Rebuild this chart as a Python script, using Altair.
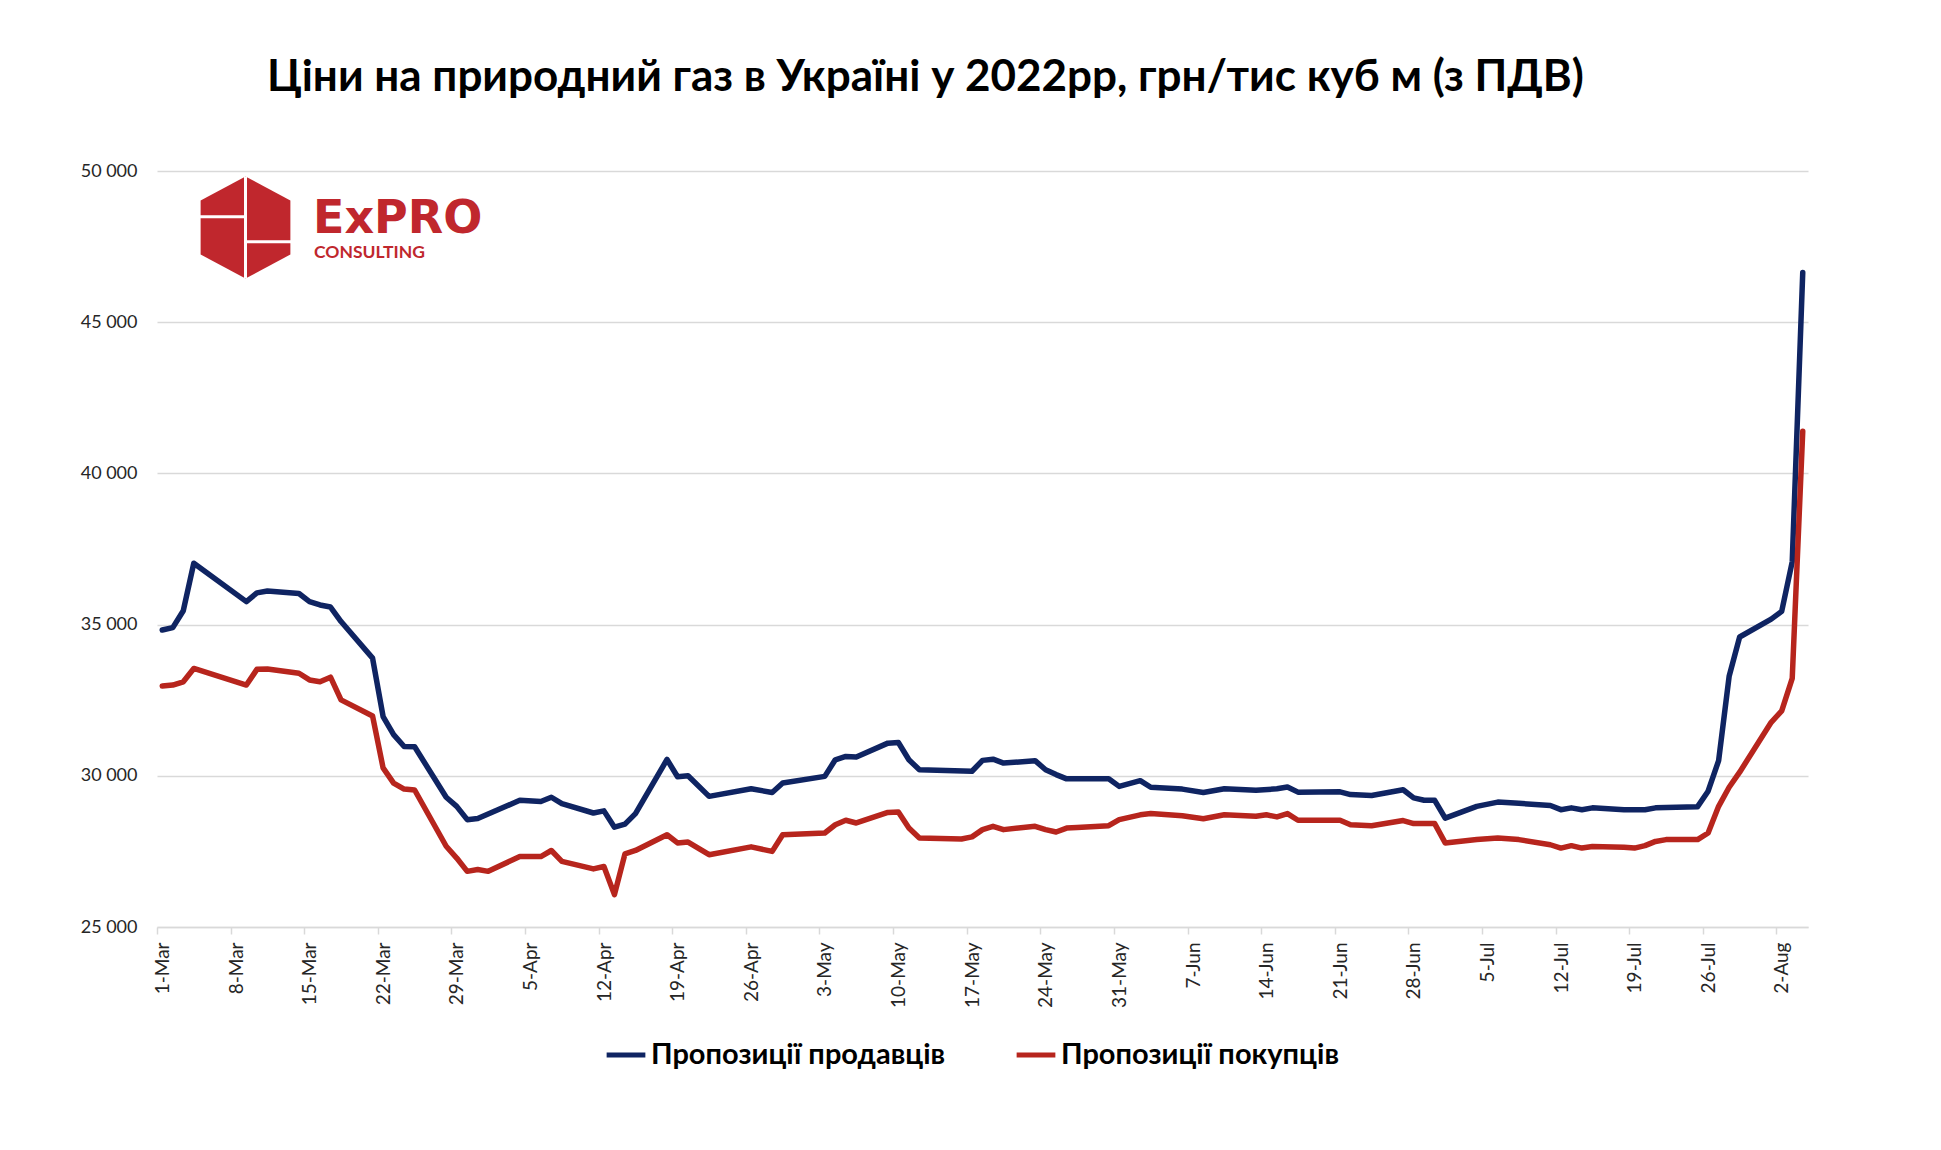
import pandas as pd
import altair as alt

# Seller offers (blue line), grn per thousand cubic metres incl. VAT
seller_dates = [
    "2022-03-01", "2022-03-02", "2022-03-03", "2022-03-04", "2022-03-09", "2022-03-10",
    "2022-03-11", "2022-03-14", "2022-03-15", "2022-03-16", "2022-03-17", "2022-03-18",
    "2022-03-21", "2022-03-22", "2022-03-23", "2022-03-24", "2022-03-25", "2022-03-28",
    "2022-03-29", "2022-03-30", "2022-03-31", "2022-04-04", "2022-04-06", "2022-04-07",
    "2022-04-08", "2022-04-11", "2022-04-12", "2022-04-13", "2022-04-14", "2022-04-15",
    "2022-04-18", "2022-04-19", "2022-04-20", "2022-04-22", "2022-04-26", "2022-04-28",
    "2022-04-29", "2022-05-03", "2022-05-04", "2022-05-05", "2022-05-06", "2022-05-09",
    "2022-05-10", "2022-05-11", "2022-05-12", "2022-05-17", "2022-05-18", "2022-05-19",
    "2022-05-20", "2022-05-23", "2022-05-24", "2022-05-25", "2022-05-26", "2022-05-30",
    "2022-05-31", "2022-06-02", "2022-06-03", "2022-06-06", "2022-06-08", "2022-06-10",
    "2022-06-13", "2022-06-15", "2022-06-16", "2022-06-17", "2022-06-21", "2022-06-22",
    "2022-06-24", "2022-06-27", "2022-06-28", "2022-06-29", "2022-06-30", "2022-07-01",
    "2022-07-04", "2022-07-06", "2022-07-08", "2022-07-11", "2022-07-12", "2022-07-13",
    "2022-07-14", "2022-07-15", "2022-07-18", "2022-07-20", "2022-07-21", "2022-07-25",
    "2022-07-26", "2022-07-27", "2022-07-28", "2022-07-29", "2022-08-01", "2022-08-02",
    "2022-08-03", "2022-08-04",
]
seller_prices = [
    34820, 34900, 35460, 37030, 35760, 36050,
    36110, 36030, 35760, 35650, 35580, 35100,
    33890, 31960, 31360, 30970, 30960, 29290,
    28990, 28550, 28590, 29190, 29150, 29290,
    29080, 28770, 28840, 28300, 28400, 28750,
    30540, 29970, 30000, 29320, 29570, 29450,
    29760, 29980, 30530, 30640, 30620, 31080,
    31100, 30530, 30200, 30150, 30510, 30550,
    30420, 30500, 30200, 30040, 29900, 29900,
    29650, 29840, 29620, 29560, 29450, 29570,
    29520, 29570, 29630, 29460, 29470, 29380,
    29350, 29540, 29270, 29190, 29190, 28600,
    28990, 29130, 29090, 29020, 28880, 28940,
    28880, 28940, 28880, 28880, 28940, 28980,
    29490, 30500, 33290, 34590, 35180, 35440,
    37080, 46640,
]

# Buyer offers (red line)
buyer_dates = [
    "2022-03-01", "2022-03-02", "2022-03-03", "2022-03-04", "2022-03-09", "2022-03-10",
    "2022-03-11", "2022-03-14", "2022-03-15", "2022-03-16", "2022-03-17", "2022-03-18",
    "2022-03-21", "2022-03-22", "2022-03-23", "2022-03-24", "2022-03-25", "2022-03-28",
    "2022-03-29", "2022-03-30", "2022-03-31", "2022-04-01", "2022-04-04", "2022-04-06",
    "2022-04-07", "2022-04-08", "2022-04-11", "2022-04-12", "2022-04-13", "2022-04-14",
    "2022-04-15", "2022-04-18", "2022-04-19", "2022-04-20", "2022-04-22", "2022-04-26",
    "2022-04-28", "2022-04-29", "2022-05-03", "2022-05-04", "2022-05-05", "2022-05-06",
    "2022-05-09", "2022-05-10", "2022-05-11", "2022-05-12", "2022-05-16", "2022-05-17",
    "2022-05-18", "2022-05-19", "2022-05-20", "2022-05-23", "2022-05-24", "2022-05-25",
    "2022-05-26", "2022-05-27", "2022-05-30", "2022-05-31", "2022-06-02", "2022-06-03",
    "2022-06-06", "2022-06-08", "2022-06-10", "2022-06-13", "2022-06-14", "2022-06-15",
    "2022-06-16", "2022-06-17", "2022-06-21", "2022-06-22", "2022-06-24", "2022-06-27",
    "2022-06-28", "2022-06-30", "2022-07-01", "2022-07-04", "2022-07-06", "2022-07-08",
    "2022-07-11", "2022-07-12", "2022-07-13", "2022-07-14", "2022-07-15", "2022-07-18",
    "2022-07-19", "2022-07-20", "2022-07-21", "2022-07-22", "2022-07-25", "2022-07-26",
    "2022-07-27", "2022-07-28", "2022-07-29", "2022-08-01", "2022-08-02", "2022-08-03",
    "2022-08-04",
]
buyer_prices = [
    32970, 33000, 33110, 33550, 33000, 33520,
    33530, 33390, 33170, 33110, 33260, 32510,
    31980, 30260, 29760, 29560, 29530, 27670,
    27280, 26840, 26900, 26840, 27330, 27330,
    27530, 27170, 26920, 27000, 26070, 27420,
    27530, 28050, 27780, 27810, 27390, 27650,
    27500, 28050, 28110, 28380, 28530, 28440,
    28790, 28800, 28270, 27940, 27910, 27980,
    28220, 28330, 28220, 28330, 28220, 28140,
    28270, 28290, 28350, 28550, 28710, 28750,
    28680, 28580, 28710, 28660, 28710, 28640,
    28750, 28530, 28530, 28380, 28350, 28520,
    28420, 28420, 27780, 27890, 27940, 27890,
    27720, 27610, 27690, 27610, 27660, 27640,
    27610, 27690, 27830, 27890, 27890, 28110,
    28990, 29620, 30120, 31770, 32150, 33220,
    41390,
]

series_names = ["Пропозиції продавців", "Пропозиції покупців"]
series_colors = ["#0f2462", "#b7251d"]

y_ticks = [25000, 30000, 35000, 40000, 45000, 50000]
tick_dates = [
    "2022-03-01", "2022-03-08", "2022-03-15", "2022-03-22", "2022-03-29", "2022-04-05",
    "2022-04-12", "2022-04-19", "2022-04-26", "2022-05-03", "2022-05-10", "2022-05-17",
    "2022-05-24", "2022-05-31", "2022-06-07", "2022-06-14", "2022-06-21", "2022-06-28",
    "2022-07-05", "2022-07-12", "2022-07-19", "2022-07-26", "2022-08-02",
]

title_text = "Ціни на природний газ в Україні у 2022рр, грн/тис куб м (з ПДВ)"

df = pd.concat([
    pd.DataFrame({"date": pd.to_datetime(seller_dates), "price": seller_prices, "series": series_names[0]}),
    pd.DataFrame({"date": pd.to_datetime(buyer_dates), "price": buyer_prices, "series": series_names[1]}),
])


def to_dt(s, hours=0):
    t = pd.Timestamp(s)
    return alt.DateTime(year=t.year, month=t.month, date=t.day, hours=hours)


GRID = "#d9d9d9"
FONT = "Lato"

lines = alt.Chart(df).mark_line(strokeWidth=5.5, strokeJoin="round", strokeCap="round").encode(
    x=alt.X("date:T",
            title=None,
            scale=alt.Scale(domain=[to_dt("2022-02-28", 12), to_dt("2022-08-04", 12)]),
            axis=alt.Axis(values=[to_dt(d) for d in tick_dates], format="%-d-%b",
                          labelAngle=270, labelFont=FONT, labelFontSize=19, labelColor="#262626",
                          labelPadding=8, tickSize=7, tickColor=GRID, tickWidth=1.5,
                          tickOffset=-5.3, labelOffset=5.5,
                          domainColor=GRID, domainWidth=1.5, grid=False, labelOverlap=False)),
    y=alt.Y("price:Q",
            title=None,
            scale=alt.Scale(domain=[25000, 50000], nice=False, zero=False),
            axis=alt.Axis(values=y_ticks, labelExpr="replace(format(datum.value, ','), ',', ' ')",
                          labelFont=FONT, labelFontSize=18, labelColor="#262626",
                          ticks=False, domain=False, labelPadding=20,
                          grid=True, gridColor=GRID, gridWidth=1.3)),
    color=alt.Color("series:N",
                    scale=alt.Scale(domain=series_names, range=series_colors),
                    legend=alt.Legend(title=None, orient="none", direction="horizontal",
                                      legendX=447, legendY=862, padding=0,
                                      symbolType="stroke", symbolStrokeWidth=5, symbolSize=1500,
                                      labelFont=FONT, labelFontSize=29, labelFontWeight="bold",
                                      labelColor="black", labelOffset=3, columnPadding=60,
                                      labelLimit=600)),
)

# ExPro logo in the top-left corner of the plot
LOGO_RED = "#c0272d"
one = pd.DataFrame({"k": [0]})
hexagon = alt.Chart(one).mark_point(
    shape="M0,-1L0.88,-0.53L0.88,0.53L0,1L-0.88,0.53L-0.88,-0.53Z",
    size=10404, filled=True, color=LOGO_RED, opacity=1, strokeWidth=0,
).encode(x=alt.value(88.5), y=alt.value(56.5))
dividers = alt.Chart(one).mark_point(
    shape="M0,-1L0,1M-0.9,-0.21L0,-0.21M0,0.28L0.9,0.28",
    size=10404, filled=False, stroke="white", strokeWidth=3, opacity=1,
).encode(x=alt.value(88.5), y=alt.value(56.5))
brand = alt.Chart(one).mark_text(
    text="ExPRO", font="DejaVu Sans", fontSize=46, fontWeight="bold", color=LOGO_RED,
    align="left", baseline="alphabetic",
).encode(x=alt.value(156), y=alt.value(62))
brand_sub = alt.Chart(one).mark_text(
    text="CONSULTING", font=FONT, fontSize=17.5, fontWeight="bold", color=LOGO_RED,
    align="left", baseline="alphabetic",
).encode(x=alt.value(157), y=alt.value(87))

chart = alt.layer(lines, hexagon, dividers, brand, brand_sub).properties(
    width=1651,
    height=756,
    autosize=alt.AutoSizeParams(type="none"),
    padding={"left": 149, "top": 163, "right": 117, "bottom": 207},
    title=alt.TitleParams(text=title_text, font=FONT, fontSize=44, fontWeight="bold", color="black",
                          anchor="middle", frame="group", dx=-57, offset=27, baseline="alphabetic"),
).configure_view(
    stroke=None
)

chart.save("out.html", embed_options={"renderer": "svg", "actions": False})
